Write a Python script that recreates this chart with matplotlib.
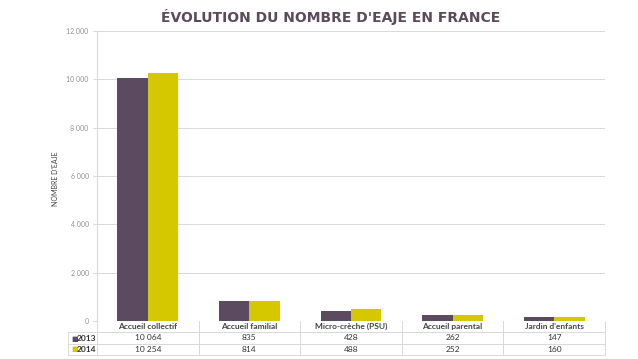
import matplotlib.pyplot as plt
import numpy as np

categories = ["Accueil collectif", "Accueil familial", "Micro-crèche (PSU)",
              "Accueil parental", "Jardin d'enfants"]
val_2013 = [10064, 835, 428, 262, 147]
val_2014 = [10254, 814, 488, 252, 160]
lab_2013 = ["10 064", "835", "428", "262", "147"]
lab_2014 = ["10 254", "814", "488", "252", "160"]
yticks = [0, 2000, 4000, 6000, 8000, 10000, 12000]

c13 = "#5b4a60"
c14 = "#d6c800"
grid_c = "#d9d9d9"

plt.rcParams['font.family'] = ['Lato', 'DejaVu Sans']

fig = plt.figure(figsize=(6.38, 3.59), dpi=100)
ax = fig.add_axes([97 / 638, 1 - 321 / 359, 508 / 638, 290 / 359])

x = np.arange(len(categories))
w = 0.3
ax.bar(x - w / 2, val_2013, w, color=c13, zorder=3)
ax.bar(x + w / 2, val_2014, w, color=c14, zorder=3)

ax.set_xlim(-0.5, len(categories) - 0.5)
ax.set_ylim(0, 12000)
ax.set_yticks(yticks)
ax.set_yticklabels([f"{v:,}".replace(",", " ") for v in yticks],
                   fontsize=5, color="#909090")
ax.set_xticks([])
ax.grid(axis="y", color=grid_c, linewidth=0.7, zorder=0)
ax.tick_params(axis="y", length=3, color=grid_c, pad=3)
for s in ["top", "right", "bottom"]:
    ax.spines[s].set_visible(False)
ax.spines["left"].set_color(grid_c)
ax.set_ylabel("NOMBRE D'EAJE", fontsize=5, color="#444444")
ax.yaxis.set_label_coords(-38 / 508, 0.49)

# tableau des valeurs
cell_text = [["", *categories],
             ["", *lab_2013],
             ["", *lab_2014]]
col_w = [29] + [508 / 5] * 5
tab = ax.table(cellText=cell_text, colWidths=col_w, cellLoc="center",
               bbox=[-29 / 508, -34 / 290, 537 / 508, 34 / 290])
tab.auto_set_font_size(False)
tab.set_fontsize(6)
for (r, c), cell in tab.get_celld().items():
    cell.set_edgecolor(grid_c)
    cell.set_linewidth(0.7)
    cell.get_text().set_color("#333333")
    if r == 0:
        cell.get_text().set_fontweight("bold")
        cell.get_text().set_color("#444444")
        if c == 0:
            cell.visible_edges = ""
        else:
            cell.visible_edges = "LRB"

# légende dans le tableau
for yy, col, txt in [(-17.5, c13, "2013"), (-28.5, c14, "2014")]:
    ax.text(-26 / 508, yy / 290, "■", transform=ax.transAxes, color=col,
            fontsize=5, va="center", ha="left", family="DejaVu Sans")
    ax.text(-20 / 508, yy / 290, txt, transform=ax.transAxes, color="#333333",
            fontsize=6, va="center", ha="left", fontweight="bold")

fig.text(0.518, 1 - 17 / 359, "ÉVOLUTION DU NOMBRE D'EAJE EN FRANCE",
         ha="center", va="center", fontsize=10, fontweight="bold",
         color="#5a4a5a", family=["DejaVu Sans"])

fig.savefig("out.png", dpi=100)
